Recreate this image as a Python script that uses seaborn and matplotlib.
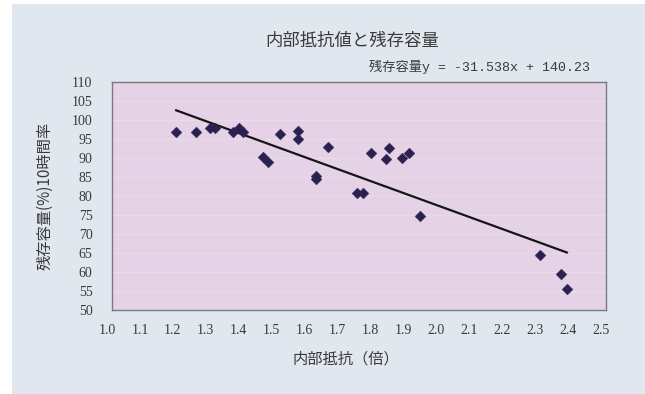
import matplotlib
matplotlib.use("Agg")
import matplotlib.pyplot as plt
from matplotlib.patches import Rectangle
from matplotlib.transforms import ScaledTranslation
import numpy as np
import pandas as pd
import seaborn as sns

# internal resistance (relative) vs remaining capacity (%, 10-hour rate)
resistance = [1.194, 1.255, 1.297, 1.312, 1.367, 1.385, 1.397, 1.458, 1.473,
              1.509, 1.564, 1.564, 1.618, 1.618, 1.655, 1.745, 1.761, 1.785,
              1.842, 1.833, 1.882, 1.903, 1.936, 2.300, 2.364, 2.382]
capacity = [96.8, 96.8, 97.9, 97.9, 96.8, 97.9, 96.8, 90.3, 89.0,
            96.3, 97.1, 95.0, 85.3, 84.5, 92.9, 80.8, 80.8, 91.3,
            92.6, 89.7, 90.0, 91.3, 74.7, 64.5, 59.5, 55.5]

# linear trend line coefficients
slope = -31.538
intercept = 140.23

x_ticks = [1.0, 1.1, 1.2, 1.3, 1.4, 1.5, 1.6, 1.7, 1.8, 1.9, 2.0, 2.1, 2.2, 2.3, 2.4, 2.5]
y_ticks = [50, 55, 60, 65, 70, 75, 80, 85, 90, 95, 100, 105, 110]

title = "内部抵抗値と残存容量"
equation = "残存容量y = -31.538x + 140.23"
x_label = "内部抵抗（倍）"
y_label = "残存容量(%)10時間率"

sns.set_theme(style="white")
plt.rcParams["font.family"] = ["Noto Sans CJK JP", "DejaVu Sans"]

BG = "#e1e7ee"
PLOT_BG = "#e6d2e6"
MARK = "#2b2150"
TEXT = "#3a3a3a"

fig = plt.figure(figsize=(6.45, 3.94), dpi=100, facecolor="white")
fig.patches.append(Rectangle((12 / 645, 0.0), 1 - 12 / 645, 1 - 4 / 394,
                             transform=fig.transFigure, facecolor=BG,
                             edgecolor="none", zorder=-10))

ax = fig.add_axes([112 / 645, 1 - 310 / 394, 494 / 645, 228 / 394])
ax.set_facecolor(PLOT_BG)

df = pd.DataFrame({"r": resistance, "c": capacity})
sns.scatterplot(data=df, x="r", y="c", ax=ax, marker="D", s=30,
                color=MARK, edgecolor=MARK, linewidth=0.3, zorder=3)

xs = np.array([min(resistance), max(resistance)])
sns.lineplot(x=xs, y=slope * xs + intercept, ax=ax, color="#161616",
             linewidth=1.6, zorder=2)

# faint horizontal bands across the plot area
for yv in y_ticks[1:-1]:
    ax.axhline(yv, color="white", alpha=0.18, linewidth=0.8, zorder=1)

ax.set_xlim(1.0, 2.5)
ax.set_ylim(50, 110)
ax.set_xticks(x_ticks)
ax.set_xticklabels([f"{v:.1f}" for v in x_ticks], family="Liberation Serif",
                   fontsize=10, color=TEXT)
ax.set_yticks(y_ticks)
ax.set_yticklabels([str(v) for v in y_ticks], family="Liberation Serif",
                   fontsize=10, color=TEXT)
ax.tick_params(axis="x", direction="in", length=3, color="#888888", pad=10)
ax.tick_params(axis="y", length=0, pad=14)

# x tick labels sit slightly left of their ticks
shift = ScaledTranslation(-5 / 100, 0, fig.dpi_scale_trans)
for lab in ax.get_xticklabels():
    lab.set_transform(lab.get_transform() + shift)

for sp in ax.spines.values():
    sp.set_color("#7a7a7a")
    sp.set_linewidth(1.0)

ax.set_xlabel("")
ax.set_ylabel("")

fig.text(352 / 645, 1 - 41 / 394, title, ha="center", va="center",
         fontsize=12.5, color=TEXT)
fig.text(590 / 645, 1 - 67 / 394, equation, ha="right", va="center",
         fontsize=9.5, color=TEXT, family=["Liberation Mono", "Noto Sans CJK JP"])
fig.text(346 / 645, 1 - 359 / 394, x_label, ha="center", va="center",
         fontsize=11, color=TEXT)
fig.text(45 / 645, 1 - 196 / 394, y_label, ha="center", va="center",
         rotation=90, fontsize=11, color=TEXT)

fig.savefig("out.png", dpi=100, facecolor=fig.get_facecolor())
